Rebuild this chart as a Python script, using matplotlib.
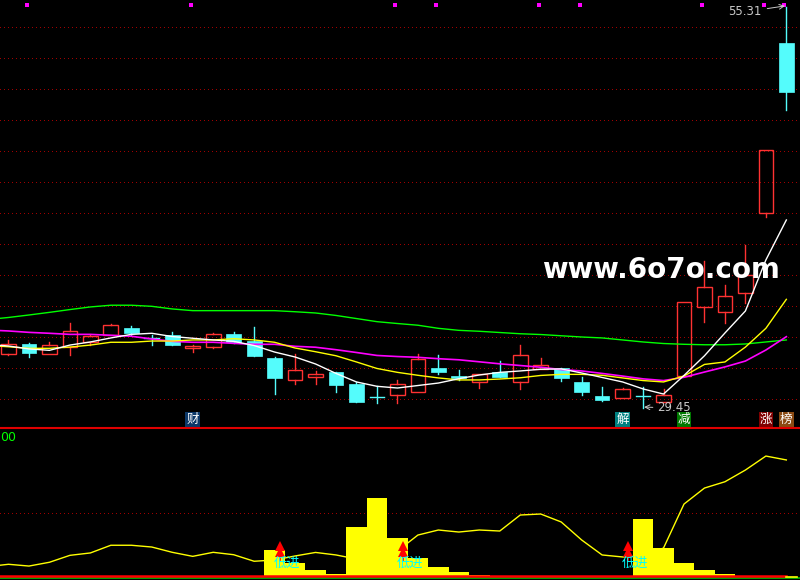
import numpy as np
import matplotlib
matplotlib.use("Agg")
import matplotlib.pyplot as plt
from matplotlib.patches import Rectangle

plt.rcParams['font.family'] = ['Noto Sans CJK SC', 'DejaVu Sans']

# daily candles, oldest first
opens  = [32.91, 33.55, 32.91, 33.36, 33.68, 34.13, 34.58, 33.94, 34.13, 33.29,
          33.36, 34.20, 33.75, 32.65, 31.23, 31.42, 31.75, 30.97, 30.14, 30.27,
          30.46, 32.00, 31.49, 31.10, 31.75, 31.10, 31.94, 32.00, 31.10, 30.20,
          30.07, 30.20, 29.81, 31.49, 35.92, 35.59, 36.82, 41.98, 52.97]
highs  = [33.81, 33.60, 33.68, 34.91, 34.13, 34.84, 34.71, 34.13, 34.32, 33.49,
          34.26, 34.32, 34.65, 32.71, 32.91, 31.81, 31.75, 31.10, 30.84, 31.23,
          32.91, 32.84, 31.88, 31.62, 32.46, 33.49, 32.65, 32.00, 31.42, 30.78,
          30.72, 30.78, 30.65, 36.26, 38.91, 37.36, 39.94, 46.05, 55.31]
lows   = [32.84, 32.71, 32.91, 32.84, 33.49, 34.13, 34.13, 33.49, 33.49, 33.04,
          33.29, 33.62, 32.78, 30.33, 30.97, 30.97, 30.46, 29.81, 29.75, 29.75,
          30.46, 31.62, 31.23, 30.72, 31.42, 30.65, 31.94, 31.17, 30.27, 29.88,
          30.07, 29.45, 29.81, 31.49, 34.99, 34.89, 36.18, 41.72, 48.65]
closes = [33.55, 32.97, 33.49, 34.39, 34.07, 34.78, 34.26, 33.94, 33.49, 33.42,
          34.20, 33.68, 32.78, 31.36, 31.88, 31.62, 30.91, 29.81, 30.14, 30.97,
          32.58, 31.75, 31.36, 31.62, 31.42, 32.84, 32.20, 31.36, 30.46, 29.94,
          30.65, 30.20, 30.27, 36.26, 37.23, 36.63, 38.00, 46.05, 49.81]

# moving averages (first value is the day before the window)
ma5  = [33.52, 33.42, 33.23, 33.14, 33.48, 33.68, 33.94, 34.17, 34.24, 34.03, 33.92,
        33.81, 33.72, 33.45, 33.03, 32.71, 32.26, 31.65, 31.10, 30.82, 30.71,
        30.87, 31.03, 31.31, 31.55, 31.72, 31.81, 31.92, 31.94, 31.68, 31.39,
        31.10, 30.65, 30.32, 31.52, 32.79, 34.26, 35.68, 38.97, 41.55]
ma10 = [33.45, 33.37, 33.27, 33.27, 33.35, 33.48, 33.66, 33.66, 33.74, 33.74, 33.81,
        33.81, 33.89, 33.81, 33.66, 33.29, 33.05, 32.79, 32.39, 31.97, 31.72,
        31.53, 31.36, 31.23, 31.23, 31.29, 31.37, 31.52, 31.59, 31.59, 31.53,
        31.36, 31.19, 31.10, 31.48, 32.23, 32.39, 33.35, 34.56, 36.43]
ma20 = [34.45, 34.39, 34.30, 34.24, 34.17, 34.17, 34.11, 34.05, 33.87, 33.72, 33.66,
        33.66, 33.59, 33.53, 33.53, 33.40, 33.34, 33.18, 33.00, 32.81, 32.74,
        32.69, 32.60, 32.53, 32.40, 32.27, 32.16, 32.05, 31.90, 31.81, 31.65,
        31.48, 31.30, 31.19, 31.40, 31.74, 32.07, 32.45, 33.16, 34.02]
ma60 = [35.13, 35.26, 35.42, 35.59, 35.77, 35.94, 36.05, 36.05, 35.98, 35.81, 35.70,
        35.70, 35.70, 35.70, 35.70, 35.63, 35.55, 35.39, 35.19, 34.99, 34.87,
        34.76, 34.56, 34.43, 34.37, 34.29, 34.21, 34.16, 34.08, 34.00, 33.94,
        33.81, 33.68, 33.58, 33.53, 33.50, 33.50, 33.55, 33.68, 33.81]

# lower indicator
ind_line = [7.5, 9.3, 7.9, 10.9, 16.4, 18.3, 24.4, 24.4, 23.0, 18.8, 15.6,
            18.8, 16.9, 11.7, 12.7, 15.9, 18.7, 16.7, 13.5, 15.9, 19.8,
            32.5, 36.5, 34.9, 36.5, 35.7, 48.4, 49.2, 42.9, 28.6, 16.7,
            15.1, 15.9, 22.2, 57.1, 69.8, 74.8, 84.1, 95.2, 92.1]
bar_days = [14, 15, 16, 17, 18, 19, 20, 21, 22, 23, 24, 32, 33, 34, 35, 36]
bar_vals = [20.6, 10.3, 4.8, 1.6, 38.9, 61.9, 30.2, 14.3, 7.1, 3.2, 0.8,
            45.2, 22.2, 10.3, 4.8, 1.6]
signal_days = [14, 20, 31]
top_mark_days = [2, 10, 20, 22, 27, 29, 35, 38, 39]
tags = [(10, '财', '#0c3868'), (31, '解', '#008080'), (34, '减', '#007a00'),
        (38, '涨', '#800000'), (39, '榜', '#8b4a12')]

RED = '#ff3232'
CYAN = '#54fcfc'
GRID = '#a00000'

n = len(opens)
x = np.arange(n)
xl = np.arange(-1, n)
xlim = (-0.415, 38.667)

fig = plt.figure(figsize=(8, 5.8), dpi=100, facecolor='black')
ax = fig.add_axes([0, 153 / 580, 1, 427 / 580])
ax2 = fig.add_axes([0, 0, 1, 152 / 580])

for a in (ax, ax2):
    a.set_facecolor('black')
    a.set_xlim(*xlim)
    a.set_xticks([])
    a.set_yticks([])
    for s in a.spines.values():
        s.set_visible(False)

# ---- main panel ----
ax.set_ylim(28.194, 55.742)
for g in range(30, 55, 2):
    ax.axhline(g, color=GRID, lw=0.72, ls=(0, (1, 3)), antialiased=False, zorder=0)

w = 0.36
for i in range(n):
    o, h, l, c = opens[i], highs[i], lows[i], closes[i]
    if c > o:
        ax.add_patch(Rectangle((i - w, o), 2 * w, c - o, fill=False, ec=RED, lw=1, zorder=2))
        if h > c:
            ax.plot([i, i], [c, h], color=RED, lw=1, zorder=2)
        if l < o:
            ax.plot([i, i], [l, o], color=RED, lw=1, zorder=2)
    elif c < o:
        ax.plot([i, i], [l, h], color=CYAN, lw=1, zorder=2)
        ax.add_patch(Rectangle((i - w, c), 2 * w, o - c, fc=CYAN, ec=CYAN, lw=0.5, zorder=2))
    else:
        ax.plot([i - w, i + w], [o, o], color=CYAN, lw=1, zorder=2)
        ax.plot([i, i], [l, h], color=CYAN, lw=1, zorder=2)

ax.plot(xl, ma60, color='#00ff00', lw=1, zorder=3)
ax.plot(xl, ma20, color='#ff00ff', lw=1.2, zorder=3)
ax.plot(xl, ma10, color='#ffff00', lw=1, zorder=3)
ax.plot(xl, ma5, color='white', lw=1, zorder=3)

ax.plot([d - 1.1 for d in top_mark_days], [55.42] * len(top_mark_days), 's',
        color='#ff00ff', ms=2.4, mew=0)

for d, t, bg in tags:
    ax.text(d - 1, 28.66, t, ha='center', va='center', color='white', fontsize=9,
            bbox=dict(boxstyle='square,pad=0.08', fc=bg, ec='none'))

ax.annotate('55.31', xy=(37.93, 55.36), xytext=(36.8, 54.97), ha='right', va='center',
            color='#c8c8c8', fontsize=8.5, family='DejaVu Sans',
            arrowprops=dict(arrowstyle='->', color='#c8c8c8', lw=0.7, shrinkA=2, shrinkB=0))
ax.annotate('29.45', xy=(31.05, 29.48), xytext=(31.68, 29.42), ha='left', va='center',
            color='#c8c8c8', fontsize=8.5, family='DejaVu Sans',
            arrowprops=dict(arrowstyle='->', color='#c8c8c8', lw=0.7, shrinkA=1, shrinkB=0))

ax.text(31.87, 38.35, 'www.6o7o.com', ha='center', va='center', color='white',
        fontsize=20, fontweight='bold', family='DejaVu Sans', zorder=5)

# ---- lower panel ----
ax2.set_ylim(-3.17, 117.46)
ax2.spines['top'].set_visible(True)
ax2.spines['top'].set_color('#e00000')
ax2.spines['top'].set_linewidth(1.5)
ax2.axhline(50, color=GRID, lw=0.72, ls=(0, (1, 3)), antialiased=False, zorder=0)

ax2.plot(xl, ind_line, color='#ffff00', lw=1, zorder=2)
ax2.bar([d - 1 for d in bar_days], bar_vals, width=1.0, color='#ffff00', zorder=3)
ax2.axhline(-1.6, color='#00c000', lw=1.2, zorder=4)
ax2.plot([xlim[0], 38.0], [0, 0], color='#ff0000', lw=1.8, zorder=5)
ax2.plot([38.0, 38.5], [-1.0, -1.0], color='#ffff00', lw=1.2, zorder=5)

for d in signal_days:
    xs = d - 1 + 0.25
    ax2.plot([xs, xs], [12.7, 19.0], color='#ff0000', lw=1.2, zorder=6)
    ax2.plot([xs, xs], [19.0, 24.2], '^', color='#ff0000', ms=7, mew=0, zorder=6)
    ax2.text(d - 1 - 0.05, 10.3, '低进', ha='left', va='center', color='#00ffff',
             fontsize=9.5, zorder=7)

ax2.text(0.0, 110.3, '00', transform=ax2.get_yaxis_transform(), ha='left', va='center',
         color='#00ff00', fontsize=9, family='DejaVu Sans')

fig.savefig('out.png', dpi=100, facecolor='black')
